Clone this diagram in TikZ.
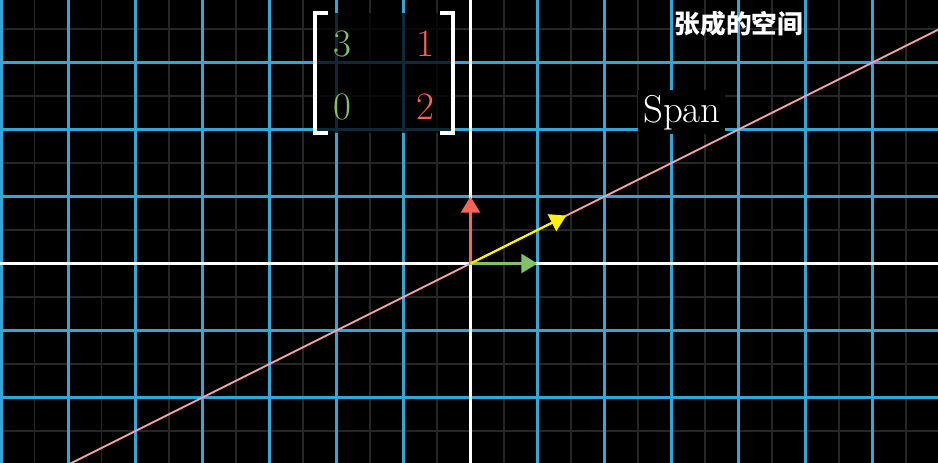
\documentclass[tikz,border=0pt]{standalone}
\usepackage{fontspec}
\newfontfamily\cjk{Noto Sans CJK SC}
\usepackage{xcolor}
\usetikzlibrary{arrows.meta,calc,positioning}
\definecolor{gridblue}{RGB}{52,166,214}
\definecolor{vgreen}{RGB}{131,193,103}
\definecolor{vred}{RGB}{252,98,85}
\definecolor{spanpink}{RGB}{236,162,178}

\begin{document}
\begin{tikzpicture}[
  faint/.style={gray!30!black,line width=0.45pt},
  major/.style={gridblue,line width=0.9pt},
  vec/.style={line width=1.3pt,-{Triangle[length=2.4mm,width=2.8mm]}},
  entry/.style={font=\fontsize{16.5}{20}\selectfont,inner sep=0pt},
  brack/.style={white,line width=1.7pt}]
\useasboundingbox (-7.022,-2.963) rectangle (6.978,3.933);
\clip (-7.022,-2.963) rectangle (6.978,3.933);
\fill[black] (-7.5,-3.5) rectangle (7.5,4.5);
% background grid
\draw[faint,step=0.5] (-7.5,-3.5) grid (7.5,4.5);
\draw[major,step=1] (-7.5,-3.5) grid (7.5,4.5);
\draw[white,line width=0.9pt] (-7.5,0) -- (7.5,0);
\draw[white,line width=0.9pt] (0,-3.5) -- (0,4.5);
% the span line
\coordinate (O) at (0,0);
\coordinate (spanA) at (-7.5,-3.75);
\coordinate (spanB) at (7.5,3.75);
\draw[spanpink,line width=0.8pt] (spanA) -- (spanB);
% basis vectors and the vector in the span
\coordinate (ihat) at (1,0);
\coordinate (jhat) at (0,1);
\coordinate (vtip) at (1.43,0.715);
\draw[vec,vgreen] (O) -- (ihat);
\draw[vec,vred] (O) -- (jhat);
\draw[vec,yellow,line width=0.9pt] (O) -- (vtip);
% matrix
\node[fill=black,fill opacity=0.75,minimum width=2.12cm,minimum height=1.79cm,inner sep=0pt] (mbox) at (-1.29,2.84) {};
\draw[brack] (-2.13,3.739) -- (-2.32,3.739) -- (-2.32,1.948) -- (-2.13,1.948);
\draw[brack] (-0.455,3.739) -- (-0.261,3.739) -- (-0.261,1.948) -- (-0.455,1.948);
\node[entry,vgreen] (a11) at (-1.907,3.276) {3};
\node[entry,vred] (a12) at (-0.679,3.276) {1};
\node[entry,vgreen] (a21) at (-1.907,2.336) {0};
\node[entry,vred] (a22) at (-0.679,2.336) {2};
% labels
\node[entry,white,fill=black,anchor=base west,inner sep=2pt] (span) at (2.50,2.112) {Span};
\node[white,font=\fontsize{10.9}{13}\cjk\bfseries] (title) at (4.007,3.575) {张成的空间};
\end{tikzpicture}
\end{document}
